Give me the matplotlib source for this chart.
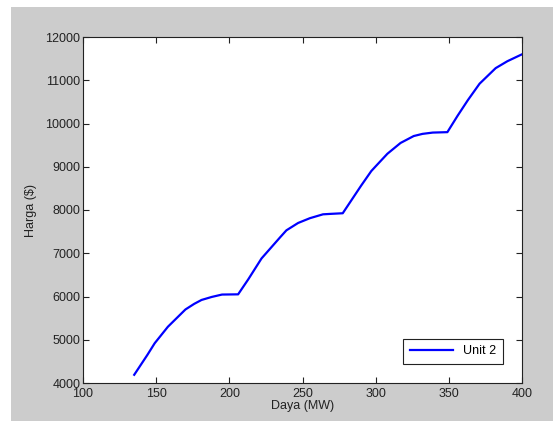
import matplotlib
matplotlib.use("Agg")
import matplotlib.pyplot as plt
from matplotlib.patches import Rectangle

# power output (MW) and cost ($)
daya = [135, 144, 149, 158, 170, 176, 181, 188, 195, 206, 213, 222, 235, 239,
        247, 255, 264, 269, 277.5, 290, 297, 300, 308, 317, 326, 332, 339,
        349, 356, 363, 371, 382, 390, 400]
harga = [4190, 4650, 4920, 5300, 5700, 5830, 5920, 5990, 6045, 6050, 6400,
         6880, 7380, 7530, 7700, 7810, 7900, 7910, 7925, 8560, 8900, 9010,
         9300, 9550, 9710, 9760, 9790, 9800, 10180, 10540, 10920, 11280,
         11440, 11600]

xticks = [100, 150, 200, 250, 300, 350, 400]
yticks = [4000, 5000, 6000, 7000, 8000, 9000, 10000, 11000, 12000]

plt.rcParams['font.family'] = ['Liberation Sans', 'DejaVu Sans']

fig = plt.figure(figsize=(5.53, 4.21), dpi=100, facecolor='white')
# gray MATLAB-style figure area
fig.patches.append(Rectangle((11 / 553, 0.0), 1 - 11 / 553, 1 - 7 / 421,
                             transform=fig.transFigure, facecolor='#cccccc',
                             edgecolor='none', zorder=-10))

ax = fig.add_axes([83 / 553, 1 - 383 / 421, (522 - 83) / 553, (383 - 37) / 421])
ax.set_facecolor('white')
ax.plot(daya, harga, color='#0000ff', linewidth=1.6, label='Unit 2')

ax.set_xlim(100, 400)
ax.set_ylim(4000, 12000)
ax.set_xticks(xticks)
ax.set_yticks(yticks)
ax.tick_params(direction='in', top=True, right=True, length=4, width=0.8,
               labelsize=9, labelcolor='#222222', color='#222222', pad=2)
ax.tick_params(axis='x', pad=3.5)
for s in ax.spines.values():
    s.set_color('#222222')
    s.set_linewidth(0.8)

ax.set_xlabel('Daya (MW)', fontsize=9, color='#222222', labelpad=0)
ax.set_ylabel('Harga ($)', fontsize=9, color='#222222', labelpad=6)

leg = ax.legend(loc='lower right', fontsize=9, fancybox=False, framealpha=1,
                edgecolor='#222222', borderaxespad=1.5, handlelength=3.5,
                borderpad=0.55)
leg.get_frame().set_linewidth(0.8)

fig.savefig('out.png', dpi=100, facecolor=fig.get_facecolor())
